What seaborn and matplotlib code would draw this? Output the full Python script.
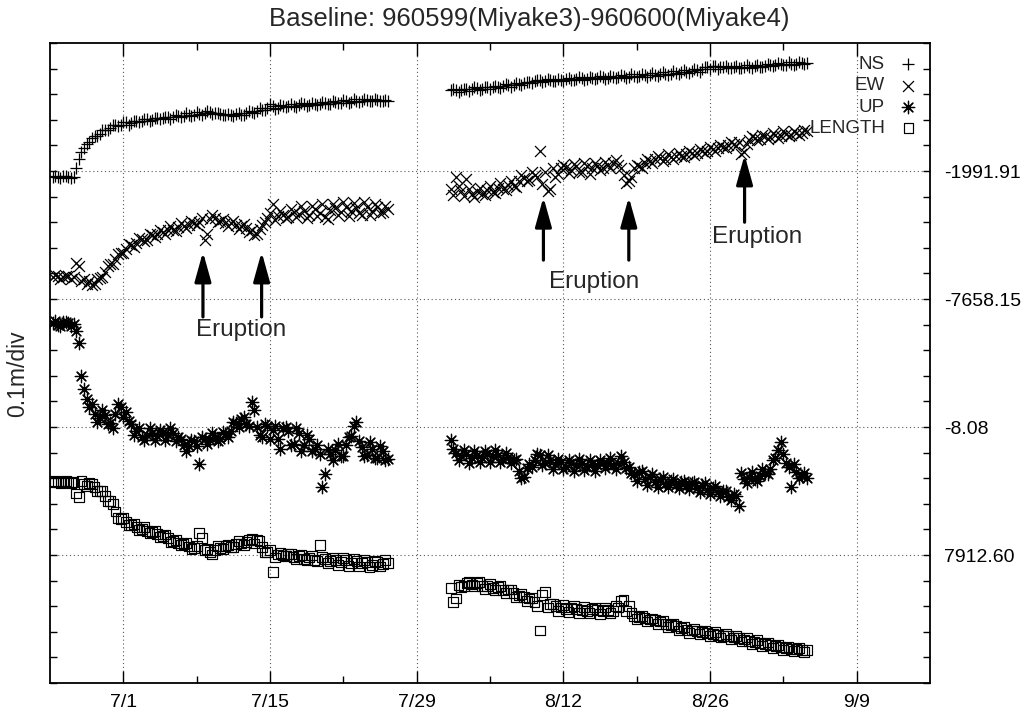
import numpy as np
import pandas as pd
import matplotlib
matplotlib.use("Agg")
import matplotlib.pyplot as plt
from matplotlib.ticker import FixedLocator, MultipleLocator
import seaborn as sns

# ---------------- data ----------------
title = "Baseline: 960599(Miyake3)-960600(Miyake4)"
ylabel = "0.1m/div"
xtick_days = [7, 21, 35, 49, 63, 77]            # days since 6/24
xtick_labels = ["7/1", "7/15", "7/29", "8/12", "8/26", "9/9"]
ytick_divs = [5, 10, 15, 20]
ytick_labels = ["7912.60", "-8.08", "-7658.15", "-1991.91"]
components = ["NS", "EW", "UP", "LENGTH"]

# sampling times (days since 6/24): two interleaved half-day grids per segment
t_seg1a = np.arange(0.25, 32.26, 0.5)
t_seg1b = np.arange(0.5, 32.01, 0.5)
t_seg2a = np.arange(38.25, 72.26, 0.5)
t_seg2b = np.arange(38.5, 72.01, 0.5)

# values in divisions (0.1 m / div), each component offset
ns_seg1a = [19.78, 19.76, 19.79, 19.77, 19.75, 20.45, 20.9, 21.12, 21.35, 21.46,
            21.62, 21.68, 21.78, 21.8, 21.9, 21.88, 21.95, 21.97, 22.02, 21.99,
            22.06, 22.08, 22.12, 22.1, 22.16, 22.14, 22.2, 22.18, 22.24, 22.27,
            22.3, 22.26, 22.24, 22.2, 22.17, 22.22, 22.2, 22.25, 22.3, 22.36,
            22.4, 22.47, 22.52, 22.48, 22.52, 22.55, 22.53, 22.58, 22.6, 22.57,
            22.62, 22.6, 22.66, 22.63, 22.68, 22.65, 22.72, 22.7, 22.75, 22.72,
            22.78, 22.74, 22.76, 22.73, 22.72]
ns_seg1b = [19.82, 19.72, 19.8, 19.74, 20.1, 20.75, 21.05, 21.3, 21.36, 21.6,
            21.62, 21.78, 21.75, 21.92, 21.8, 21.97, 21.92, 22.03, 21.96, 22.08,
            22.04, 22.12, 22.05, 22.18, 22.12, 22.26, 22.13, 22.3, 22.2, 22.34,
            22.24, 22.28, 22.2, 22.24, 22.14, 22.26, 22.2, 22.34, 22.28, 22.46,
            22.4, 22.6, 22.44, 22.56, 22.5, 22.6, 22.5, 22.64, 22.54, 22.66,
            22.58, 22.7, 22.62, 22.74, 22.66, 22.76, 22.66, 22.8, 22.7, 22.8,
            22.72, 22.82, 22.72, 22.78]
ns_seg2a = [23.15, 23.18, 23.16, 23.2, 23.22, 23.24, 23.22, 23.27, 23.3, 23.28,
            23.33, 23.36, 23.35, 23.4, 23.42, 23.46, 23.5, 23.54, 23.52, 23.55,
            23.53, 23.56, 23.58, 23.55, 23.6, 23.62, 23.6, 23.64, 23.62, 23.66,
            23.65, 23.68, 23.66, 23.7, 23.68, 23.72, 23.7, 23.74, 23.75, 23.76,
            23.78, 23.8, 23.79, 23.83, 23.85, 23.88, 23.9, 23.94, 23.98, 24.05,
            24.12, 24.0, 24.08, 24.02, 24.05, 24.03, 24.07, 24.05, 24.1, 24.08,
            24.12, 24.14, 24.13, 24.17, 24.16, 24.19, 24.18, 24.21, 24.22]
ns_seg2b = [23.2, 23.1, 23.22, 23.14, 23.27, 23.18, 23.29, 23.2, 23.33, 23.24,
            23.38, 23.3, 23.42, 23.34, 23.48, 23.44, 23.56, 23.48, 23.6, 23.5,
            23.61, 23.52, 23.63, 23.54, 23.67, 23.56, 23.69, 23.58, 23.71, 23.6,
            23.73, 23.62, 23.75, 23.64, 23.77, 23.66, 23.79, 23.69, 23.82, 23.72,
            23.85, 23.76, 23.89, 23.8, 23.93, 23.84, 23.97, 23.88, 24.06, 23.97,
            24.1, 24.06, 24.1, 24.02, 24.1, 24.02, 24.13, 24.02, 24.15, 24.07,
            24.19, 24.1, 24.22, 24.13, 24.24, 24.15, 24.26, 24.18]

ew_seg1a = [15.86, 15.9, 15.84, 15.88, 15.85, 16.3, 15.8, 15.7, 15.6, 15.82,
            16.05, 16.35, 16.55, 16.8, 16.95, 17.1, 17.2, 17.35, 17.32, 17.5,
            17.55, 17.62, 17.7, 17.68, 17.8, 17.85, 17.9, 17.95, 18.02, 17.3,
            18.12, 18.18, 18.05, 17.98, 17.95, 17.88, 17.85, 17.78, 17.7, 17.55,
            17.9, 18.15, 18.7, 18.25, 18.3, 18.22, 18.38, 18.32, 18.45, 18.3,
            18.5, 18.35, 18.2, 18.48, 18.55, 18.38, 18.6, 18.42, 18.55, 18.3,
            18.58, 18.45, 18.6, 18.4, 18.52]
ew_seg1b = [15.92, 15.8, 15.9, 15.78, 16.4, 15.72, 15.6, 15.55, 15.78, 15.85,
            16.3, 16.38, 16.75, 16.78, 17.15, 17.05, 17.38, 17.28, 17.55, 17.42,
            17.7, 17.55, 17.85, 17.65, 17.95, 17.78, 18.05, 17.88, 18.15, 17.55,
            18.28, 18.0, 18.12, 17.85, 18.05, 17.75, 17.92, 17.62, 17.5, 17.75,
            18.0, 18.35, 18.1, 18.45, 18.15, 18.5, 18.2, 18.62, 18.18, 18.65,
            18.25, 18.7, 18.12, 18.72, 18.3, 18.78, 18.25, 18.75, 18.35, 18.8,
            18.28, 18.72, 18.35, 18.62]
ew_seg2a = [19.3, 19.75, 19.2, 19.7, 19.12, 19.2, 19.1, 19.25, 19.18, 19.35,
            19.3, 19.45, 19.4, 19.6, 19.72, 19.65, 19.85, 20.8, 19.95, 19.3,
            19.75, 20.1, 20.15, 20.05, 20.18, 19.95, 20.2, 20.12, 20.2, 20.1,
            20.25, 20.3, 20.22, 19.85, 19.6, 20.1, 20.2, 20.3, 20.38, 20.45,
            20.5, 20.48, 20.55, 20.6, 20.58, 20.68, 20.72, 20.7, 20.78, 20.8,
            20.85, 20.9, 20.95, 21.02, 21.05, 21.12, 20.75, 21.2, 21.3, 21.25,
            21.35, 21.32, 21.4, 21.38, 21.45, 21.42, 21.5, 21.48, 21.55]
ew_seg2b = [19.05, 19.4, 19.02, 19.3, 19.0, 19.35, 19.05, 19.4, 19.15, 19.55,
            19.25, 19.62, 19.38, 19.85, 19.6, 19.98, 19.75, 19.5, 19.2, 20.1,
            19.9, 20.25, 19.92, 20.28, 19.98, 20.32, 19.9, 20.3, 20.02, 20.35,
            20.1, 20.42, 20.12, 19.55, 19.75, 20.25, 20.12, 20.48, 20.3, 20.58,
            20.4, 20.65, 20.45, 20.72, 20.55, 20.8, 20.62, 20.85, 20.7, 20.92,
            20.78, 21.02, 20.88, 21.15, 20.98, 20.65, 21.05, 21.35, 21.2, 21.42,
            21.25, 21.48, 21.3, 21.55, 21.35, 21.58, 21.4, 21.6]

up_seg1a = [14.08, 14.0, 14.1, 14.05, 14.02, 13.3, 11.5, 10.8, 10.5, 10.35,
            10.45, 10.15, 10.5, 10.78, 10.6, 10.1, 9.85, 9.62, 9.7, 9.78,
            9.65, 9.82, 9.7, 9.75, 9.6, 9.3, 9.25, 9.45, 8.55, 9.55,
            9.48, 9.62, 9.55, 9.72, 9.85, 10.15, 10.3, 10.1, 10.98, 10.0,
            9.6, 10.05, 9.9, 9.55, 9.95, 9.85, 9.35, 9.75, 9.3, 9.55,
            9.15, 8.95, 8.15, 8.95, 9.1, 8.85, 9.3, 9.65, 10.2, 9.2,
            8.9, 9.15, 8.8, 9.05, 8.75]
up_seg1b = [14.15, 13.95, 14.12, 13.96, 13.75, 12.0, 11.1, 10.9, 10.2, 10.65,
            10.1, 9.95, 10.9, 10.4, 10.25, 9.7, 9.95, 9.5, 9.95, 9.5,
            9.9, 9.5, 9.95, 9.45, 9.55, 9.05, 9.5, 9.25, 9.6, 9.35,
            9.75, 9.45, 9.8, 9.6, 10.2, 10.0, 10.4, 10.05, 10.66, 9.7,
            10.1, 9.55, 10.05, 9.15, 10.0, 9.3, 9.95, 9.05, 9.7, 9.05,
            9.3, 7.66, 9.15, 8.7, 9.35, 8.85, 9.6, 10.05, 9.45, 8.85,
            9.4, 8.8, 9.25, 8.7]
up_seg2a = [9.5, 9.0, 8.85, 8.95, 8.8, 8.9, 8.78, 8.95, 8.85, 8.92,
            8.75, 8.82, 8.7, 8.3, 8.05, 8.55, 8.72, 8.9, 8.6, 8.7,
            8.55, 8.62, 8.45, 8.58, 8.5, 8.6, 8.42, 8.55, 8.5, 8.6,
            8.55, 8.5, 8.58, 8.65, 8.45, 8.15, 8.25, 7.95, 8.05, 7.85,
            7.95, 7.78, 7.9, 7.75, 7.85, 7.7, 7.8, 7.62, 7.72, 7.55,
            7.6, 7.45, 7.5, 7.25, 7.4, 6.9, 7.95, 8.05, 7.98, 8.1,
            8.2, 8.35, 8.8, 9.42, 8.6, 7.65, 8.25, 8.1, 8.0]
up_seg2b = [9.15, 8.7, 9.1, 8.6, 9.05, 8.65, 9.08, 8.62, 9.1, 8.65,
            9.0, 8.6, 8.75, 8.0, 8.4, 8.45, 8.95, 8.5, 8.9, 8.35,
            8.75, 8.35, 8.72, 8.3, 8.75, 8.32, 8.7, 8.3, 8.72, 8.38,
            8.78, 8.35, 8.85, 8.4, 8.2, 7.9, 8.3, 7.72, 8.15, 7.65,
            8.05, 7.65, 7.95, 7.6, 7.88, 7.58, 7.85, 7.45, 7.8, 7.38,
            7.7, 7.3, 7.5, 7.15, 7.3, 8.2, 7.8, 8.25, 7.9, 8.35,
            8.15, 8.7, 9.1, 8.95, 8.45, 8.55, 8.0, 8.2]

len_seg1a = [7.86, 7.84, 7.87, 7.85, 7.84, 7.25, 7.78, 7.82, 7.65, 7.5,
             7.32, 7.1, 6.7, 6.42, 6.3, 6.18, 6.1, 6.02, 5.95, 5.9,
             5.82, 5.75, 5.65, 5.55, 5.48, 5.42, 5.33, 5.28, 5.85, 5.18,
             5.12, 5.2, 5.28, 5.35, 5.3, 5.42, 5.45, 5.5, 5.62, 5.58,
             5.3, 5.12, 4.35, 5.02, 4.98, 5.05, 4.92, 4.95, 4.85, 4.9,
             4.82, 5.38, 4.85, 4.78, 4.82, 4.72, 4.8, 4.7, 4.75, 4.68,
             4.74, 4.62, 4.72, 4.66, 4.7]
len_seg1b = [7.9, 7.8, 7.9, 7.82, 7.4, 7.9, 7.7, 7.78, 7.5, 7.5,
             7.1, 7.0, 6.45, 6.45, 6.18, 6.22, 5.98, 6.08, 5.85, 5.95,
             5.7, 5.8, 5.52, 5.6, 5.38, 5.48, 5.22, 5.35, 5.65, 5.25,
             5.02, 5.35, 5.22, 5.4, 5.3, 5.55, 5.4, 5.58, 5.45, 5.55,
             5.1, 5.2, 4.9, 5.08, 4.95, 5.05, 4.85, 5.0, 4.8, 4.98,
             4.78, 4.92, 4.68, 4.9, 4.62, 4.88, 4.58, 4.85, 4.55, 4.8,
             4.52, 4.78, 4.55, 4.8]
len_seg2a = [3.7, 3.3, 3.75, 3.9, 3.85, 3.92, 3.8, 3.78, 3.72, 3.75,
             3.62, 3.65, 3.5, 3.42, 3.35, 3.3, 3.15, 2.05, 3.55, 3.1,
             3.0, 2.95, 2.9, 2.95, 2.88, 2.85, 2.82, 2.88, 2.85, 2.8,
             2.86, 2.82, 2.95, 3.25, 3.0, 2.62, 2.58, 2.55, 2.48, 2.45,
             2.4, 2.32, 2.28, 2.22, 2.15, 2.08, 2.05, 2.02, 1.98, 1.96,
             1.93, 1.88, 1.85, 1.82, 1.78, 1.75, 1.7, 1.65, 1.6, 1.57,
             1.52, 1.48, 1.45, 1.4, 1.37, 1.34, 1.32, 1.3, 1.28]
len_seg2b = [3.16, 3.82, 3.78, 3.95, 3.8, 3.95, 3.68, 3.88, 3.62, 3.78,
             3.5, 3.65, 3.35, 3.48, 3.2, 3.32, 3.02, 3.45, 2.95, 3.1,
             2.82, 3.05, 2.78, 3.0, 2.75, 2.98, 2.72, 2.95, 2.7, 2.95,
             2.72, 3.0, 3.2, 2.8, 2.75, 2.5, 2.62, 2.4, 2.52, 2.3,
             2.42, 2.18, 2.32, 2.05, 2.18, 1.95, 2.1, 1.9, 2.05, 1.85,
             2.0, 1.78, 1.92, 1.7, 1.85, 1.62, 1.78, 1.52, 1.68, 1.45,
             1.58, 1.38, 1.5, 1.3, 1.42, 1.25, 1.38, 1.22]

# eruption annotations: day, arrow tip, arrow tail (div units)
eruption_days = [14.6, 20.2, 47.1, 55.25, 66.3]
eruption_tips = [16.84, 16.84, 18.98, 18.98, 20.63]
eruption_tails = [14.3, 14.3, 16.52, 16.52, 18.0]
eruption_text_pos = [(18.2, 13.8), (51.9, 15.66), (67.5, 17.42)]

# ---------------- build table ----------------
series = {"NS": (ns_seg1a, ns_seg1b, ns_seg2a, ns_seg2b),
          "EW": (ew_seg1a, ew_seg1b, ew_seg2a, ew_seg2b),
          "UP": (up_seg1a, up_seg1b, up_seg2a, up_seg2b),
          "LENGTH": (len_seg1a, len_seg1b, len_seg2a, len_seg2b)}
times = (t_seg1a, t_seg1b, t_seg2a, t_seg2b)
frames = []
for comp in components:
    frames.append(pd.DataFrame({"day": np.concatenate(times),
                                "value": np.concatenate(series[comp]),
                                "component": comp}))
df = pd.concat(frames, ignore_index=True)

# ---------------- plot ----------------
sns.set_style("ticks")
plt.rcParams["font.family"] = ["Liberation Sans", "DejaVu Sans"]

fig = plt.figure(figsize=(10.30, 7.17), dpi=100)
ax = fig.add_axes([50 / 1030, 1 - 683 / 717, 880 / 1030, 640 / 717])

marker_styles = {
    "NS": dict(marker="+", s=80, color="black", linewidth=0.9),
    "EW": dict(marker="x", s=62, color="black", linewidth=0.9),
    "UP": dict(marker=(8, 2, 0), s=80, color="black", linewidth=0.9),
    "LENGTH": dict(marker="s", s=50, facecolor="none", edgecolor="black", linewidth=0.85),
}
for comp in components:
    sub = df[df["component"] == comp]
    sns.scatterplot(data=sub, x="day", y="value", ax=ax, label=comp,
                    legend=False, **marker_styles[comp])

# eruption arrows and labels
for d, tip, tail in zip(eruption_days, eruption_tips, eruption_tails):
    ax.annotate("", xy=(d, tip), xytext=(d, tail),
                arrowprops=dict(arrowstyle="-|>,head_length=1.8,head_width=0.5",
                                lw=2.3, color="black", shrinkA=0, shrinkB=0))
for (tx, ty) in eruption_text_pos:
    ax.text(tx, ty, "Eruption", ha="center", va="center", fontsize=17.5)

# axes
ax.set_xlim(0, 84)
ax.set_ylim(0, 25)
ax.xaxis.set_major_locator(FixedLocator(xtick_days))
ax.set_xticklabels(xtick_labels)
ax.xaxis.set_minor_locator(FixedLocator([14, 28, 42, 56, 70]))
ax.yaxis.set_major_locator(FixedLocator(ytick_divs))
ax.set_yticklabels(ytick_labels)
ax.yaxis.set_minor_locator(MultipleLocator(1))
ax.set_xlabel("")
ax.set_ylabel(ylabel, fontsize=16.5)
ax.yaxis.set_label_coords(-0.024, 0.483)

ax.tick_params(axis="both", which="both", direction="in", colors="black",
               labelsize=14, width=1.0)
ax.tick_params(axis="x", which="major", length=9, top=True, bottom=True, pad=8)
ax.tick_params(axis="x", which="minor", length=5, top=True, bottom=True)
ax.tick_params(axis="y", which="both", length=5, left=True, right=True,
               labelleft=False, labelright=True, pad=10)

ax.grid(True, which="major", linestyle=(0, (1, 2.5)), color="0.35", linewidth=0.8)
for sp in ax.spines.values():
    sp.set_visible(True)
    sp.set_linewidth(1.3)
    sp.set_color("black")

leg = ax.legend(loc="upper right", bbox_to_anchor=(1.0, 1.0), frameon=False,
                markerfirst=False, fontsize=13.5, handlelength=0.9,
                handletextpad=0.8, labelspacing=0.22,
                borderaxespad=0.2, borderpad=0.5)

fig.text(0.514, 0.973, title, ha="center", va="center", fontsize=18.5)

fig.savefig("out.png", dpi=100)
